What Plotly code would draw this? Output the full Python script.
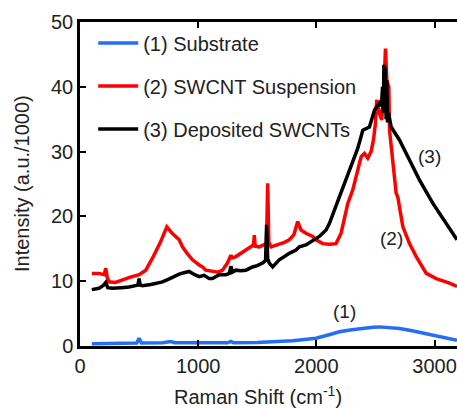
import plotly.graph_objects as go

# (1) Substrate
sub_x = [100, 300, 480, 500, 520, 700, 768, 800, 1000, 1250, 1277, 1300, 1500, 1700, 1799, 1900,
         1997, 2100, 2195, 2300, 2393, 2480, 2534, 2600, 2703, 2800, 2901, 3000, 3099, 3190]
sub_y = [0.35, 0.4, 0.45, 1.2, 0.45, 0.5, 0.7, 0.5, 0.5, 0.5, 0.7, 0.5, 0.55, 0.65, 0.8, 1.0,
         1.2, 1.7, 2.2, 2.5, 2.75, 2.9, 2.95, 2.9, 2.7, 2.4, 2.0, 1.6, 1.2, 0.9]

# (2) SWCNT Suspension
sus_x = [100, 160, 205, 218, 230, 245, 300, 356, 420, 500, 557, 620, 680, 735, 780, 839, 867, 910,
         952, 1008, 1037, 1065, 1121, 1170, 1206, 1248, 1277, 1290, 1319, 1360, 1404, 1440, 1460,
         1468, 1475, 1482, 1517, 1560, 1578, 1588, 1598, 1616, 1650, 1686, 1730, 1771, 1810, 1842,
         1870, 1912, 1969, 1997, 2053, 2110, 2167, 2209, 2237, 2266, 2308, 2350, 2379, 2407, 2435,
         2463, 2483, 2500, 2511, 2534, 2553, 2568, 2585, 2596, 2613, 2619, 2647, 2675, 2689, 2732,
         2788, 2845, 2930, 3014, 3127, 3190]
sus_y = [11.2, 11.2, 11.0, 12.0, 10.6, 9.9, 9.8, 10.2, 10.6, 11.0, 11.7, 13.8, 16.0, 18.4, 17.4,
         16.4, 15.3, 14.2, 13.3, 12.5, 12.2, 11.7, 11.5, 11.4, 11.7, 12.8, 14.0, 13.6, 13.8, 14.3,
         14.8, 15.2, 15.6, 15.6, 17.1, 15.4, 15.3, 15.6, 15.8, 25.1, 16.0, 15.3, 15.5, 15.6, 16.0,
         16.4, 17.2, 19.2, 17.9, 17.4, 16.9, 16.4, 15.8, 15.7, 15.8, 17.4, 20.0, 22.0, 24.1, 27.2,
         29.2, 29.7, 29.0, 30.0, 31.8, 34.4, 38.0, 35.9, 34.9, 38.5, 45.9, 41.0, 40.0, 33.3, 28.2,
         23.6, 23.0, 18.4, 15.8, 13.8, 11.2, 10.4, 9.7, 9.2]

# (3) Deposited SWCNTs
dep_x = [100, 160, 200, 218, 235, 274, 350, 415, 490, 500, 510, 528, 600, 698, 760, 839, 880,
         924, 970, 1008, 1050, 1093, 1121, 1178, 1235, 1263, 1277, 1290, 1319, 1360, 1404, 1460,
         1500, 1545, 1570, 1579, 1588, 1602, 1630, 1686, 1730, 1771, 1828, 1856, 1912, 1960, 1997,
         2025, 2082, 2110, 2195, 2250, 2308, 2350, 2393, 2449, 2492, 2534, 2550, 2560, 2566, 2572,
         2578, 2584, 2590, 2596, 2602, 2610, 2633, 2703, 2788, 2873, 2986, 3099, 3190]
dep_y = [8.7, 8.9, 9.4, 9.8, 9.0, 8.9, 9.0, 9.1, 9.4, 10.4, 9.4, 9.3, 9.5, 9.9, 10.4, 11.1, 11.3,
         11.5, 11.0, 10.7, 10.9, 10.4, 10.4, 11.0, 11.0, 11.2, 12.3, 11.4, 11.7, 11.6, 11.7, 12.2,
         12.4, 12.8, 13.2, 18.7, 13.5, 12.8, 12.2, 13.3, 13.8, 14.3, 14.8, 15.3, 15.6, 16.1, 16.6,
         16.9, 17.9, 18.9, 23.0, 25.6, 28.2, 30.5, 33.3, 33.8, 36.4, 37.5, 37.0, 40.0, 36.0, 43.4,
         38.0, 43.0, 35.0, 41.0, 34.5, 36.0, 33.8, 31.8, 28.7, 25.6, 22.0, 18.9, 16.4]

x_ticks = [0, 1000, 2000, 3000]
y_ticks = [0, 10, 20, 30, 40, 50]

labels = ["(1)", "(2)", "(3)"]
label_x = [2237, 2636, 2957]
label_y = [5.4, 16.6, 29.2]

FONT = "Liberation Sans, Arial, sans-serif"
FS = 20

fig = go.Figure()
series = [
    (sub_x, sub_y, "(1) Substrate", "rgb(36,110,245)"),
    (sus_x, sus_y, "(2) SWCNT Suspension", "#ff0000"),
    (dep_x, dep_y, "(3) Deposited SWCNTs", "#000000"),
]
for i, (xs, ys, name, col) in enumerate(series):
    fig.add_trace(go.Scatter(x=xs, y=ys, mode="lines", name=name, legendgroup=str(i),
                             line=dict(color=col, width=3.5)))

for t, lx, ly in zip(labels, label_x, label_y):
    fig.add_annotation(x=lx, y=ly, text=t, showarrow=False,
                       font=dict(family=FONT, size=19, color="#222"))

fig.add_annotation(xref="paper", yref="paper", x=0.472, y=0, yshift=-49, yanchor="middle",
                   text="Raman Shift (cm<sup>-1</sup>)", showarrow=False,
                   font=dict(family=FONT, size=FS, color="#222"))
fig.add_annotation(xref="paper", yref="paper", x=0, xshift=-58, y=0.5, xanchor="center",
                   textangle=-90, text="Intensity (a.u./1000)", showarrow=False,
                   font=dict(family=FONT, size=FS, color="#222"))

fig.update_layout(
    width=457, height=408,
    margin=dict(l=80, r=0, t=22, b=62),
    plot_bgcolor="white", paper_bgcolor="white",
    font=dict(family=FONT, size=FS, color="#222"),
    showlegend=True,
    legend=dict(x=0.035, y=0.995, xanchor="left", yanchor="top", bgcolor="rgba(0,0,0,0)",
                traceorder="grouped", tracegroupgap=14, itemwidth=40,
                font=dict(family=FONT, size=FS, color="#222")),
    xaxis=dict(range=[0, 3190], tickvals=x_ticks, ticks="inside", ticklen=6, tickwidth=2,
               tickcolor="black", showline=True, linewidth=2.5, linecolor="black",
               mirror="ticks", showgrid=False, zeroline=False,
               tickfont=dict(family=FONT, size=FS, color="#222")),
    yaxis=dict(range=[0, 50], tickvals=y_ticks, ticks="inside", ticklen=6, tickwidth=2,
               tickcolor="black", showline=True, linewidth=2.5, linecolor="black",
               showgrid=False, zeroline=False,
               tickfont=dict(family=FONT, size=FS, color="#222")),
)

fig.write_html("out.html")
